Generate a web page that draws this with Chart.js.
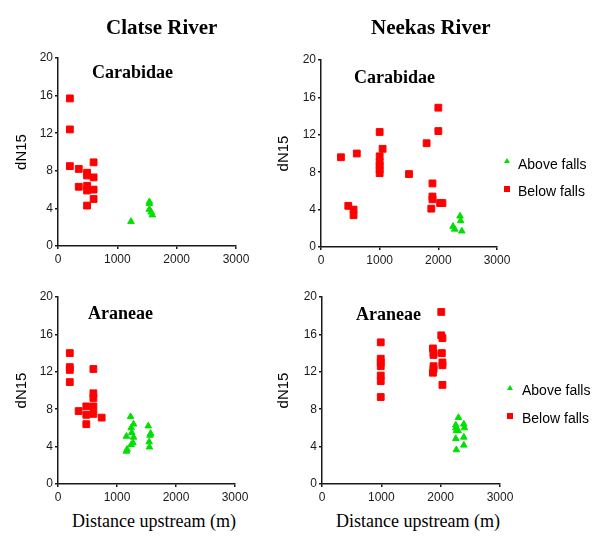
<!DOCTYPE html>
<html>
<head>
<meta charset="utf-8">
<title>dN15 by distance upstream</title>
<script src="https://cdn.jsdelivr.net/npm/chart.js@4.4.1/dist/chart.umd.min.js"></script>
<style>
  html, body { margin: 0; padding: 0; background: #fff; }
  #page { position: relative; width: 600px; height: 538px; overflow: hidden; background: #fff; }
  #page canvas { position: absolute; }
  .lbl { position: absolute; white-space: nowrap; line-height: 1; color: #000; }
  .col { font: bold 21px "Liberation Serif", "Times New Roman", serif; }
  .taxon { font: bold 18px "Liberation Serif", "Times New Roman", serif; }
  .xtitle { font: 18px "Liberation Serif", "Times New Roman", serif; }
  .legend { font: 14px "Liberation Sans", Arial, sans-serif; }
  .mk-tri { position: absolute; width: 0; height: 0; border-left: 3px solid transparent; border-right: 3px solid transparent; border-bottom: 5px solid #00e000; }
  .mk-sq { position: absolute; width: 6px; height: 6px; background: #ff0000; }
</style>
</head>
<body>
<div id="page">
  <canvas id="clatseCarabidae" width="260" height="228" style="left:0;top:38px"></canvas>
  <canvas id="neekasCarabidae" width="260" height="227" style="left:265px;top:40px"></canvas>
  <canvas id="clatseAraneae" width="260" height="227" style="left:0;top:277px"></canvas>
  <canvas id="neekasAraneae" width="260" height="227" style="left:265px;top:277px"></canvas>

  <div class="lbl col" style="left:106px;top:15px">Clatse River</div>
  <div class="lbl col" style="left:371px;top:15px">Neekas River</div>

  <div class="lbl taxon" style="left:92px;top:62px">Carabidae</div>
  <div class="lbl taxon" style="left:354px;top:67px">Carabidae</div>
  <div class="lbl taxon" style="left:88px;top:303px">Araneae</div>
  <div class="lbl taxon" style="left:356px;top:304px">Araneae</div>

  <div class="lbl xtitle" style="left:72px;top:511px">Distance upstream (m)</div>
  <div class="lbl xtitle" style="left:336px;top:511px">Distance upstream (m)</div>

  <div class="mk-tri" style="left:504px;top:158px"></div>
  <div class="lbl legend" style="left:518px;top:156px">Above falls</div>
  <div class="mk-sq" style="left:504px;top:186px"></div>
  <div class="lbl legend" style="left:518px;top:183px">Below falls</div>

  <div class="mk-tri" style="left:507px;top:385px"></div>
  <div class="lbl legend" style="left:522px;top:382px">Above falls</div>
  <div class="mk-sq" style="left:507px;top:413px"></div>
  <div class="lbl legend" style="left:522px;top:410px">Below falls</div>
</div>

<script>
// axis ticks
const xTicks = [0, 1000, 2000, 3000];
const yTicks = [0, 4, 8, 12, 16, 20];

// Clatse River - Carabidae
const clatseCarabidaeBelowX = [200, 200, 200, 350, 350, 490, 490, 490, 490, 490, 600, 600, 600, 600];
const clatseCarabidaeBelowY = [15.7, 12.4, 8.5, 8.2, 6.3, 7.8, 7.5, 6.4, 5.9, 4.3, 8.9, 7.3, 6.0, 5.0];
const clatseCarabidaeAboveX = [1230, 1540, 1540, 1540, 1570, 1590];
const clatseCarabidaeAboveY = [2.6, 4.7, 4.5, 3.9, 3.6, 3.3];

// Neekas River - Carabidae
const neekasCarabidaeBelowX = [340, 465, 555, 555, 610, 1000, 1000, 1000, 1000, 1000, 1000, 1050, 1500, 1800, 2000, 2000, 1900, 1900, 1900, 1880, 2030, 2070];
const neekasCarabidaeBelowY = [9.6, 4.4, 4.0, 3.4, 10.0, 12.3, 9.7, 9.1, 8.7, 8.3, 7.9, 10.5, 7.8, 11.1, 14.9, 12.4, 6.8, 5.4, 5.1, 4.1, 4.7, 4.7];
const neekasCarabidaeAboveX = [2250, 2280, 2370, 2380, 2400];
const neekasCarabidaeAboveY = [2.2, 1.9, 3.3, 2.8, 1.7];

// Clatse River - Araneae
const clatseAraneaeBelowX = [200, 200, 200, 200, 350, 480, 480, 480, 600, 600, 600, 600, 600, 740];
const clatseAraneaeBelowY = [14.0, 12.5, 12.2, 10.9, 7.8, 8.3, 7.4, 6.4, 12.3, 9.7, 9.2, 8.3, 7.5, 7.1];
const clatseAraneaeAboveX = [1160, 1170, 1160, 1230, 1240, 1250, 1280, 1280, 1270, 1240, 1530, 1570, 1560, 1545, 1550];
const clatseAraneaeAboveY = [3.5, 3.7, 5.1, 7.2, 6.0, 5.5, 6.4, 5.0, 4.4, 4.2, 6.2, 5.4, 5.2, 4.5, 3.95];

// Neekas River - Araneae
const neekasAraneaeBelowX = [990, 990, 990, 990, 990, 990, 990, 1870, 1880, 1880, 1880, 1880, 1870, 2010, 2010, 2030, 2020, 2030, 2030, 2030];
const neekasAraneaeBelowY = [15.15, 13.4, 13.0, 12.6, 11.6, 11.0, 9.3, 14.5, 14.0, 13.8, 12.6, 12.3, 11.9, 18.4, 15.9, 15.6, 14.0, 13.0, 12.7, 10.6];
const neekasAraneaeAboveX = [2300, 2255, 2255, 2265, 2255, 2265, 2390, 2400, 2390, 2390, 2295];
const neekasAraneaeAboveY = [7.1, 6.3, 6.0, 5.7, 4.85, 3.65, 6.4, 6.0, 5.0, 4.15, 5.7];

const GREEN = "#00e000";
const RED = "#ff0000";
const INK = "#1a1a1a";
const SANS = "'Liberation Sans', Arial, sans-serif";

function zip(xs, ys) {
  return xs.map((x, i) => ({ x, y: ys[i] }));
}

function makePanel(id, above, below, box) {
  const canvas = document.getElementById(id);
  return new Chart(canvas, {
    type: "scatter",
    data: {
      datasets: [
        {
          label: "Above falls",
          data: above,
          pointStyle: "triangle",
          pointRadius: 3.8,
          backgroundColor: GREEN,
          borderColor: GREEN,
          borderWidth: 1
        },
        {
          label: "Below falls",
          data: below,
          pointStyle: "rect",
          pointRadius: 4.8,
          backgroundColor: RED,
          borderColor: RED,
          borderWidth: 1
        }
      ]
    },
    options: {
      responsive: false,
      animation: false,
      events: [],
      layout: { padding: { top: box.top, right: box.right, left: 0, bottom: 0 } },
      plugins: { legend: { display: false }, tooltip: { enabled: false } },
      scales: {
        x: {
          type: "linear",
          min: xTicks[0],
          max: xTicks[xTicks.length - 1],
          afterFit(s) { s.height = 20; },
          afterBuildTicks(s) { s.ticks = xTicks.map((v) => ({ value: v })); },
          ticks: {
            font: { family: SANS, size: 12 },
            color: INK,
            padding: 3,
            maxRotation: 0,
            autoSkip: false,
            callback: (v) => String(v)
          },
          grid: { drawOnChartArea: false, tickLength: 3, color: INK, lineWidth: 1.5 },
          border: { color: INK, width: 1.5 }
        },
        y: {
          min: yTicks[0],
          max: yTicks[yTicks.length - 1],
          afterFit(s) { s.width = box.yWidth; },
          afterBuildTicks(s) { s.ticks = yTicks.map((v) => ({ value: v })); },
          ticks: {
            font: { family: SANS, size: 12 },
            color: INK,
            padding: 2,
            autoSkip: false,
            callback: (v) => String(v)
          },
          grid: { drawOnChartArea: false, tickLength: 3, color: INK, lineWidth: 1.5 },
          border: { color: INK, width: 1.5 },
          title: {
            display: true,
            text: "dN15",
            color: "#000",
            font: { family: SANS, size: 15 },
            padding: { top: box.titlePad, bottom: 0 }
          }
        }
      }
    }
  });
}

document.addEventListener("DOMContentLoaded", () => {
  makePanel("clatseCarabidae",
    zip(clatseCarabidaeAboveX, clatseCarabidaeAboveY),
    zip(clatseCarabidaeBelowX, clatseCarabidaeBelowY),
    { top: 20, right: 24, yWidth: 58, titlePad: 13 });
  makePanel("neekasCarabidae",
    zip(neekasCarabidaeAboveX, neekasCarabidaeAboveY),
    zip(neekasCarabidaeBelowX, neekasCarabidaeBelowY),
    { top: 20, right: 28, yWidth: 56, titlePad: 10 });
  makePanel("clatseAraneae",
    zip(clatseAraneaeAboveX, clatseAraneaeAboveY),
    zip(clatseAraneaeBelowX, clatseAraneaeBelowY),
    { top: 20, right: 25, yWidth: 58, titlePad: 13 });
  makePanel("neekasAraneae",
    zip(neekasAraneaeAboveX, neekasAraneaeAboveY),
    zip(neekasAraneaeBelowX, neekasAraneaeBelowY),
    { top: 20, right: 25, yWidth: 57, titlePad: 10 });
});
</script>
</body>
</html>
